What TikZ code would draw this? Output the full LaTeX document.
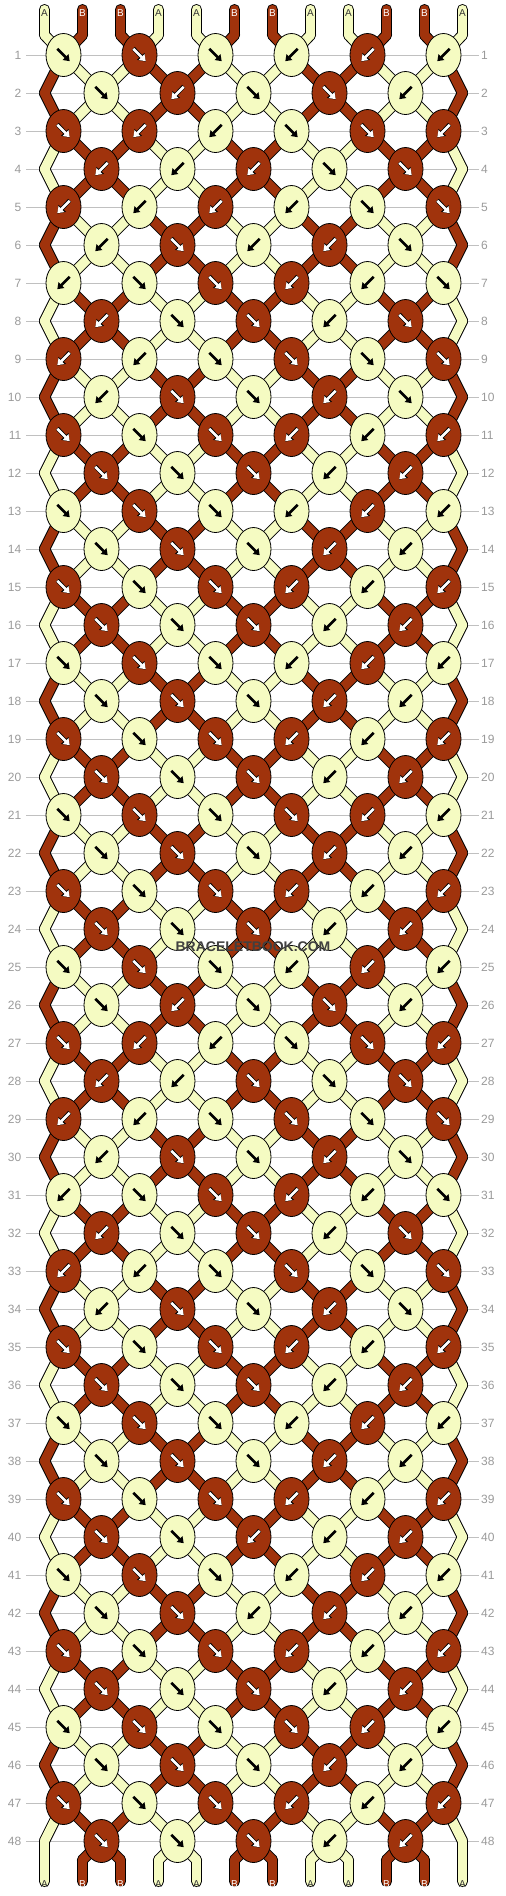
\documentclass[tikz,border=0pt]{standalone}
\usepackage{fontspec}
\setmainfont{Liberation Sans}
\usetikzlibrary{shapes.geometric,arrows.meta}

\definecolor{cream}{HTML}{F5FBC2}
\definecolor{rust}{HTML}{A0330C}
\definecolor{rulegray}{HTML}{C0C0C0}
\definecolor{numgray}{HTML}{9A9A9A}
\definecolor{markgray}{HTML}{404040}
\definecolor{taggray}{HTML}{333333}

\tikzset{
  knot/.style={ellipse, draw=black, line width=0.8pt, minimum width=35pt, minimum height=43pt, inner sep=0pt},
  strand edge/.style={black, line width=11.2pt, line cap=round},
  strand body/.style={color=#1, line width=9.3pt, line cap=round},
  rowrule/.style={rulegray, line width=0.9pt},
  rownum/.style={numgray, font=\fontsize{12}{14}\selectfont, inner sep=0pt},
  tag/.style={font=\fontsize{10}{11}\selectfont, inner sep=0pt},
  knotarrow/.style={line width=2.7pt, -{Triangle[length=5.8pt,width=7.8pt]}},
  knotarrow rim/.style={black, line width=4.1pt, -{Triangle[length=7.3pt,width=9.8pt]}},
}

\def\inkcream{black}
\def\inkrust{white}
\def\creamname{cream}
\def\rustname{rust}

% collected drawing, played back in order: outlines, bodies, knots
\def\outlinelist{}
\def\bodylist{}
\def\knotlist{}
\newcommand\strandseg[3]{%
  \xdef\outlinelist{\unexpanded\expandafter{\outlinelist}\noexpand\draw[strand edge] (#2) -- (#3);}%
  \xdef\bodylist{\unexpanded\expandafter{\bodylist}\noexpand\draw[strand body=#1] (#2) -- (#3);}}

\begin{document}
\begin{tikzpicture}[x=1pt,y=-1pt]
\useasboundingbox (0,0) rectangle (506,1896);

% row rules and numbers
\foreach \rw in {1,...,48} {
  \pgfmathsetmacro\y{55+38*(\rw-1)}
  \draw[rowrule] (26,\y) -- (479,\y);
  \node[rownum, anchor=east] (nl\rw) at (21.5,\y) {\rw};
  \node[rownum, anchor=west] (nr\rw) at (481,\y) {\rw};
}

% threads at the top
\foreach \col [count=\i from 0] in {cream,rust,rust,cream,cream,rust,rust,cream,cream,rust,rust,cream} {
  \pgfmathsetmacro\x{44.5+38*\i}
  \coordinate (s\i) at (\x,9.6);
  \coordinate (t\i) at (\x,35);
  \strandseg{\col}{s\i}{t\i}
  \expandafter\xdef\csname sc\i\endcsname{\col}
  \expandafter\xdef\csname sp\i\endcsname{t\i}
}

% the knots, row by row (F = forward, B = backward)
\foreach \pat [count=\rw] in {
  {F,F,F,B,B,B},{F,B,F,F,B},{F,B,B,F,F,B},{B,B,B,F,F},
  {B,B,B,B,F,F},{B,F,B,B,F},{B,F,F,B,B,F},{B,F,F,B,F},
  {B,B,F,F,F,F},{B,F,F,B,F},{F,F,F,B,B,B},{F,F,F,B,B},
  {F,F,F,B,B,B},{F,F,F,B,B},{F,F,F,B,B,B},{F,F,F,B,B},
  {F,F,F,B,B,B},{F,F,F,B,B},{F,F,F,B,B,B},{F,F,F,B,B},
  {F,F,F,F,B,B},{F,F,F,B,B},{F,F,F,B,B,B},{F,F,F,B,B},
  {F,F,F,B,B,B},{F,B,F,F,B},{F,B,B,F,F,B},{B,B,F,F,F},
  {B,B,F,F,F,F},{B,F,F,B,F},{B,F,F,B,B,F},{B,F,F,B,F},
  {B,B,F,F,F,F},{B,F,F,B,F},{F,F,F,B,B,B},{F,F,F,B,B},
  {F,F,F,B,B,B},{F,F,F,B,B},{F,F,F,B,B,B},{F,F,B,B,B},
  {F,F,F,B,B,B},{F,F,B,B,B},{F,F,F,B,B,B},{F,F,F,B,B},
  {F,F,F,F,B,B},{F,F,F,B,B},{F,F,F,B,B,B},{F,F,F,B,B}} {
  \pgfmathsetmacro\y{55+38*(\rw-1)}
  \ifodd\rw \def\off{0}\else \def\off{1}\fi
  \foreach \dir [count=\kn from 0] in \pat {
    \pgfmathtruncatemacro\ia{2*\kn+\off}
    \pgfmathtruncatemacro\ib{\ia+1}
    \pgfmathsetmacro\x{63.5+38*\off+76*\kn}
    \coordinate (c\rw-\kn) at (\x,\y);
    \edef\ca{\csname sc\ia\endcsname}
    \edef\cb{\csname sc\ib\endcsname}
    \edef\qa{\csname sp\ia\endcsname}
    \edef\qb{\csname sp\ib\endcsname}
    \if F\dir \let\kc\ca \def\sx{-6.2}\def\ex{6.2}\else \let\kc\cb \def\sx{6.2}\def\ex{-6.2}\fi
    \edef\ink{\csname ink\kc\endcsname}
    \strandseg{\ca}{\qa}{c\rw-\kn}
    \strandseg{\cb}{\qb}{c\rw-\kn}
    \xdef\knotlist{\unexpanded\expandafter{\knotlist}%
      \noexpand\node[knot, fill=\kc] (k\rw-\kn) at (c\rw-\kn) {};}
    \ifx\kc\rustname
      \xdef\knotlist{\unexpanded\expandafter{\knotlist}%
        \noexpand\draw[knotarrow rim] ([shift={(\sx,-6.7)}]k\rw-\kn.center) -- ([shift={(\ex,6.7)}]k\rw-\kn.center);}
    \fi
    \xdef\knotlist{\unexpanded\expandafter{\knotlist}%
      \noexpand\draw[knotarrow, color=\ink] ([shift={(\sx,-6.2)}]k\rw-\kn.center) -- ([shift={(\ex,6.2)}]k\rw-\kn.center);}
    \expandafter\xdef\csname sc\ia\endcsname{\cb}
    \expandafter\xdef\csname sc\ib\endcsname{\ca}
    \expandafter\xdef\csname sp\ia\endcsname{c\rw-\kn}
    \expandafter\xdef\csname sp\ib\endcsname{c\rw-\kn}
  }
  \ifodd\rw\else
    \coordinate (el\rw) at (44.5,\y);
    \coordinate (er\rw) at (462.5,\y);
    \edef\ca{\csname sc0\endcsname}\edef\qa{\csname sp0\endcsname}
    \edef\cb{\csname sc11\endcsname}\edef\qb{\csname sp11\endcsname}
    \strandseg{\ca}{\qa}{el\rw}
    \strandseg{\cb}{\qb}{er\rw}
    \expandafter\xdef\csname sp0\endcsname{el\rw}
    \expandafter\xdef\csname sp11\endcsname{er\rw}
  \fi
}

% threads at the bottom
\foreach \i in {0,...,11} {
  \pgfmathsetmacro\x{44.5+38*\i}
  \coordinate (w\i) at (\x,1881.4);
  \edef\ca{\csname sc\i\endcsname}
  \edef\qa{\csname sp\i\endcsname}
  \ifnum\i=0 \strandseg{\ca}{\qa}{w\i}
  \else\ifnum\i=11 \strandseg{\ca}{\qa}{w\i}
  \else
    \coordinate (u\i) at (\x,1860);
    \strandseg{\ca}{\qa}{u\i}
    \strandseg{\ca}{u\i}{w\i}
  \fi\fi
}

\outlinelist
\bodylist
\knotlist

% thread letters
\foreach \tg [count=\i from 0] in {A,B,B,A,A,B,B,A,A,B,B,A} {
  \pgfmathsetmacro\x{44.5+38*\i}
  \if A\tg \def\ink{taggray}\else \def\ink{white}\fi
  \node[tag, text=\ink] (a\i) at (\x,12.7) {\tg};
}
\foreach \i in {0,...,11} {
  \pgfmathsetmacro\x{44.5+38*\i}
  \edef\ca{\csname sc\i\endcsname}
  \ifx\ca\creamname \def\tg{A}\def\ink{taggray}\else \def\tg{B}\def\ink{white}\fi
  \node[tag, text=\ink] (z\i) at (\x,1884.3) {\tg};
}

\node[font=\bfseries\fontsize{14}{16}\selectfont, text=markgray] (mark) at (253,947) {BRACELETBOOK.COM};
\end{tikzpicture}
\end{document}
